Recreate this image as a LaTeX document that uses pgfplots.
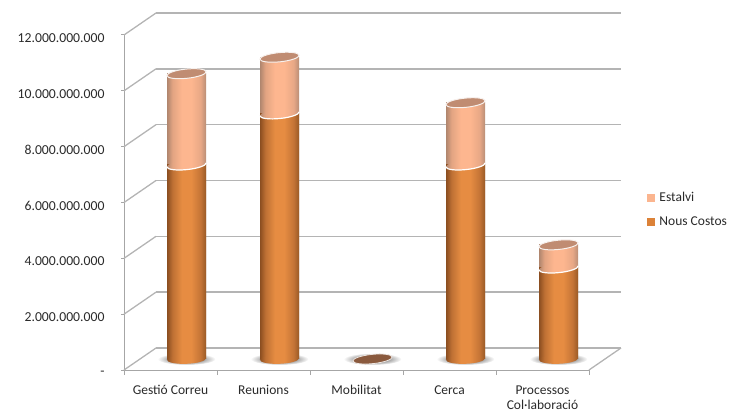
\documentclass[border=0pt]{standalone}
\usepackage{fontspec}
\setmainfont{Carlito}
\usepackage{pgfplots}
\pgfplotsset{compat=1.18}
\usetikzlibrary{plotmarks,shadings}

\definecolor{wall}{HTML}{B4B4B4}
\definecolor{axisgray}{HTML}{A6A6A6}
\definecolor{txt}{HTML}{2A2A2A}
\definecolor{capest}{HTML}{C08C72}
\definecolor{capmob}{HTML}{8A5A3E}
\definecolor{legest}{HTML}{FBB58F}
\definecolor{legnous}{HTML}{DC8238}
\definecolor{na}{RGB}{139,78,32}
\definecolor{nb}{RGB}{190,112,52}
\definecolor{nc}{RGB}{230,140,66}
\definecolor{nd}{RGB}{196,116,54}
\definecolor{ne}{RGB}{154,90,38}
\definecolor{ea}{RGB}{176,134,110}
\definecolor{eb}{RGB}{226,164,130}
\definecolor{ec}{RGB}{253,182,143}
\definecolor{ed}{RGB}{232,168,134}
\definecolor{ee}{RGB}{186,142,118}
\definecolor{sa}{gray}{0.58}
\definecolor{sb}{gray}{0.66}

\pgfdeclarehorizontalshading{cylnous}{100bp}{
  color(0bp)=(na); color(25bp)=(na);
  color(32bp)=(nb); color(44bp)=(nc);
  color(56bp)=(nc); color(68bp)=(nd);
  color(75bp)=(ne); color(100bp)=(ne)}
\pgfdeclarehorizontalshading{cylest}{100bp}{
  color(0bp)=(ea); color(25bp)=(ea);
  color(32bp)=(eb); color(44bp)=(ec);
  color(56bp)=(ec); color(68bp)=(ed);
  color(75bp)=(ee); color(100bp)=(ee)}
\pgfdeclareradialshading{floorshadow}{\pgfpointorigin}{
  color(0bp)=(sa); color(15bp)=(sb);
  color(25bp)=(white); color(100bp)=(white)}

\newcommand{\capellipse}{\pgfpathellipse{\pgfpointorigin}{\pgfpoint{19.6pt}{2pt}}{\pgfpoint{-0.5pt}{4.6pt}}}
\newcommand{\frontarc}{\pgfpathmoveto{\pgfpoint{-19.6pt}{-2pt}}%
  \pgfpatharcaxes{180}{360}{\pgfpoint{19.6pt}{2pt}}{\pgfpoint{-0.5pt}{4.6pt}}}

\pgfdeclareplotmark{baseNous}{%
  \pgfpathellipse{\pgfpointorigin}{\pgfpoint{19.6pt}{0.8pt}}{\pgfpoint{-0.2pt}{4.8pt}}\pgfshadepath{cylnous}{0}\pgfusepath{discard}}
\pgfdeclareplotmark{joinEst}{%
  \capellipse\pgfshadepath{cylest}{0}\pgfusepath{discard}%
  \frontarc\pgfsetstrokecolor{white}\pgfsetlinewidth{1.2pt}\pgfusepathqstroke}
\pgfdeclareplotmark{capEst}{%
  \capellipse\pgfsetfillcolor{capest}\pgfsetstrokecolor{white!88!capest}\pgfsetlinewidth{1pt}\pgfusepathqfillstroke}
\pgfdeclareplotmark{capMob}{%
  \capellipse\pgfsetfillcolor{capmob}\pgfsetstrokecolor{white!85!capmob}\pgfsetlinewidth{0.8pt}\pgfusepathqfillstroke}
\pgfdeclareplotmark{shadow}{%
  \pgfpathellipse{\pgfpointorigin}{\pgfpoint{29pt}{0pt}}{\pgfpoint{0pt}{6pt}}\pgfshadepath{floorshadow}{0}\pgfusepath{discard}}

\pgfplotsset{frame/.style={
  scale only axis,width=465pt,height=335pt,scaled y ticks=false,
  xmin=0,xmax=5,ymin=0,ymax=12000000000,clip=false},
  cyl/.style={forget plot,ybar,bar width=39pt,bar shift=0pt,draw=none,shade}}

% category position, Nous Costos, Nous Costos + Estalvi
\newcommand{\cylinder}[3]{%
  \addplot[cyl,shading=cylest] coordinates {(#1,#3)};
  \addplot[cyl,shading=cylnous] coordinates {(#1,#2)};
  \addplot[forget plot,only marks,mark=baseNous] coordinates {(#1,0)};
  \addplot[forget plot,only marks,mark=joinEst] coordinates {(#1,#2)};
  \addplot[forget plot,only marks,mark=capEst] coordinates {(#1,#3)};
}

\begin{document}
\begin{tikzpicture}[x=1pt,y=1pt]
\useasboundingbox (0,0) rectangle (730,412);

% back wall gridlines
\begin{axis}[frame,at={(156pt,64pt)},anchor=south west,
  axis line style={draw=none},tick style={draw=none},
  xtick=\empty,ytick={0,2000000000,4000000000,6000000000,8000000000,10000000000,12000000000},
  yticklabels={},ymajorgrids,
  grid style={wall,line width=1.4pt}]
\addplot[draw=none] coordinates {(0,0)};
\end{axis}

% front axis with ticks and the floor and side diagonals
\begin{axis}[frame,at={(124pt,42pt)},anchor=south west,
  axis x line=bottom,axis y line=left,
  axis line style={axisgray,line width=1pt,-},
  tick align=outside,tick style={axisgray,line width=1pt},
  major tick length=3pt,minor tick length=5pt,
  every major x tick/.style={draw=none},
  xtick={0.5,1.5,2.5,3.5,4.5},
  xticklabels={Gestió Correu,Reunions,Mobilitat,Cerca,{Processos\\Col·laboració}},
  minor xtick={0,1,2,3,4,5},
  ytick={0,2000000000,4000000000,6000000000,8000000000,10000000000,12000000000},
  yticklabels={-\hspace{8pt},2.000.000.000,4.000.000.000,6.000.000.000,8.000.000.000,10.000.000.000,12.000.000.000},
  yticklabel style={font=\fontsize{13.7}{14}\selectfont,text=txt,xshift=-13pt,yshift=-3pt},
  xticklabel style={font=\fontsize{13.5}{15}\selectfont,text=txt,align=center,yshift=-9pt},
  unbounded coords=jump]
\addplot[wall,line width=1.3pt] table {
x y
0 0
0.344 788000000
nan nan
0 2000000000
0.344 2788000000
nan nan
0 4000000000
0.344 4788000000
nan nan
0 6000000000
0.344 6788000000
nan nan
0 8000000000
0.344 8788000000
nan nan
0 10000000000
0.344 10788000000
nan nan
0 12000000000
0.344 12788000000
nan nan
5 0
5.344 788000000
};
\end{axis}

% floor shadows, in an axis of their own since marks go on top of bars
\begin{axis}[frame,at={(140pt,53pt)},anchor=south west,hide axis]
\addplot[only marks,mark=shadow] coordinates {(0.5,0) (1.5,0) (2.5,0) (3.5,0) (4.5,0)};
\end{axis}

% cylinders, standing half way into the floor
\begin{axis}[frame,at={(140pt,53pt)},anchor=south west,hide axis,
  legend style={at={(1.09,0.446)},anchor=west,draw=none,fill=none,
    font=\fontsize{13.5}{15}\selectfont,text=txt,row sep=12pt,
    inner sep=0pt,nodes={inner sep=1pt}},
  legend cell align=left]
\cylinder{0.5}{6950000000}{10220000000}
\cylinder{1.5}{8780000000}{10810000000}
\addplot[forget plot,only marks,mark=capMob] coordinates {(2.5,0)};
\cylinder{3.5}{6950000000}{9180000000}
\cylinder{4.5}{3260000000}{4090000000}
\addlegendimage{legend image code/.code={\fill[legest] (0pt,-3.5pt) rectangle (7pt,3.5pt);}}
\addlegendentry{\hspace{4pt}Estalvi}
\addlegendimage{legend image code/.code={\fill[legnous] (0pt,-3.5pt) rectangle (7pt,3.5pt);}}
\addlegendentry{\hspace{4pt}Nous Costos}
\end{axis}
\end{tikzpicture}
\end{document}
